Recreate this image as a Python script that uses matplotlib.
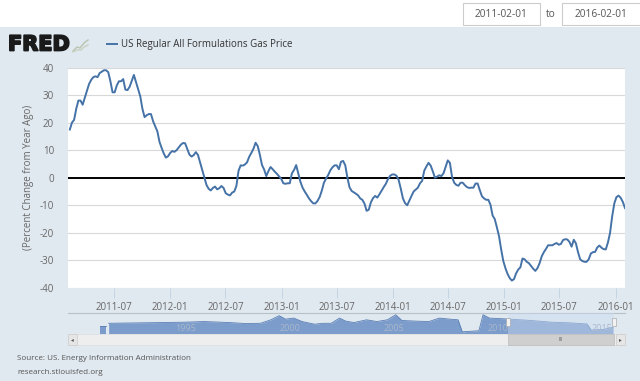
import matplotlib
matplotlib.use("Agg")
import matplotlib.pyplot as plt
import matplotlib.dates as mdates
import matplotlib.patches as mpatches
import matplotlib.patheffects as pe
import pandas as pd
import numpy as np

# ---------------- data ----------------
start_date = "2011-02-07"
pct_change = [
    17.5, 20, 21, 25, 28, 28, 26.5, 29, 31.5, 34, 35.5, 36.5, 36.8, 36.5, 38, 38.5, 39, 39, 38.3, 35,
    31, 31, 33.5, 35, 35, 35.8, 32, 31.8, 33, 35.2, 37.3, 34.7, 32, 29.5, 25, 22, 22.7, 23.1, 23.1, 20.5,
    18.7, 16.8, 13, 10.8, 8.8, 7.3, 7.8, 9, 9.7, 9.4, 10, 11, 12, 12.6, 12.5, 10.5, 8.4, 7.7, 8.2, 9.3,
    8.3, 5.6, 3, 0.2, -2.6, -4, -4.6, -3.7, -3.2, -4.2, -3.8, -3, -3.7, -5.6, -6.1, -6.4, -5.4, -5, -3, 2.5,
    4.5, 4.4, 4.8, 5.6, 7.6, 9, 10.5, 12.7, 11.5, 8.3, 4.6, 3, 0.6, 2.4, 3.9, 3.1, 2.2, 1.4, 0.5, -0.4,
    -2, -2.2, -2, -2, 1.6, 2.8, 4.6, 1.6, -1.5, -3.6, -5, -6.2, -7.5, -8.5, -9.3, -9.3, -8.4, -7, -4.7, -1.8,
    -0.3, 1, 2.7, 3.8, 4.5, 4.5, 3.1, 5.8, 6.1, 4.5, 0, -3.5, -4.8, -5.3, -5.8, -6.4, -7.5, -8, -9.4, -12,
    -11.6, -8.9, -7.4, -6.6, -7.2, -6, -4.7, -3.4, -2.2, -0.5, 0.7, 1.2, 1.2, 0.7, -0.8, -4, -7.5, -9.2, -10, -8.3,
    -6.6, -5, -4.3, -3.6, -2, -1.1, 2.6, 4.1, 5.4, 4.4, 2.3, 0, 0.4, 0.9, 0.6, 1.6, 4, 6.3, 5.4, 0.3,
    -1.8, -2.6, -2.9, -1.8, -1.8, -2.7, -3.4, -3.7, -3.6, -3.6, -2.1, -2.1, -4.5, -6.7, -7.5, -8, -8, -9.8, -13.7, -15,
    -18, -21.2, -26, -30.2, -32.8, -34.9, -36.4, -37.3, -36.8, -34.7, -33.3, -32.5, -29.3, -29.6, -30.5, -31, -32, -33, -33.8, -32.8,
    -31, -28.5, -27, -25.8, -24.5, -24.5, -24.5, -24, -23.7, -24.3, -24, -22.6, -22.3, -22.4, -23.3, -25, -22.5, -23.8, -27, -29.6,
    -30.2, -30.5, -30.5, -29.6, -27.5, -27, -26.9, -25.3, -24.6, -25.4, -25.9, -26, -23.5, -20, -14, -9.3, -7, -6.5, -7.3, -8.8,
    -11,
]
dates = pd.date_range(start_date, periods=len(pct_change), freq="7D")

x_ticks = ["2011-07-01", "2012-01-01", "2012-07-01", "2013-01-01", "2013-07-01",
           "2014-01-01", "2014-07-01", "2015-01-01", "2015-07-01", "2016-01-01"]
y_ticks = [-40, -30, -20, -10, 0, 10, 20, 30, 40]
date_from, date_to = "2011-02-01", "2016-02-01"

# navigator (full history overview), years and values
nav_years_a = [1991.4, 1991.65]
nav_vals_a = [-6, -6]
nav_years = [1991.8, 1994.4, 1995.4, 1996.4, 1996.8, 1997.6, 1998.4, 1999.1, 1999.6, 2000.0,
             2000.3, 2000.7, 2001.1, 2001.7, 2002.1, 2002.5, 2002.9, 2003.2, 2003.6, 2004.2,
             2004.7, 2005.2, 2005.6, 2005.9, 2006.6, 2007.2, 2007.7, 2008.2, 2008.6, 2008.8,
             2009.6, 2009.8, 2010.1, 2011.1, 2012.1, 2013.1, 2014.0, 2014.8, 2015.0, 2015.6, 2016.05]
nav_vals = [14, 19.5, 22, 27, 24.6, 19.5, 12, 14, 40, 71,
            45, 53, 27, 7, 14, 14, 53, 30, 19.5, 40,
            27, 40, 78, 35, 30, 27, 53, 45, 40, -50,
            -42, 78, 53, 45, 35, 22, 17, 9, -37, -32, -16]
nav_labels = [1995, 2000, 2005, 2010, 2015]

title = "US Regular All Formulations Gas Price"
ylabel = "(Percent Change from Year Ago)"
source = "Source: US. Energy Information Administration"
site = "research.stlouisfed.org"

# ---------------- style ----------------
BG = "#e1e9f0"
LINE = "#4572a7"
FONT = ["Open Sans", "DejaVu Sans"]
plt.rcParams["font.family"] = FONT

W, H = 640, 381
fig = plt.figure(figsize=(W / 100, H / 100), dpi=100)
fig.patch.set_facecolor(BG)

def fr(x0, y0, x1, y1):
    return [x0 / W, 1 - y1 / H, (x1 - x0) / W, (y1 - y0) / H]

# decoration layer in pixel coordinates
deco = fig.add_axes([0, 0, 1, 1], zorder=0)
deco.set_xlim(0, W)
deco.set_ylim(H, 0)
deco.axis("off")
deco.add_patch(mpatches.Rectangle((0, 0), W, 27, color="white", lw=0))
deco.add_patch(mpatches.Rectangle((463, 3), 77, 22, facecolor="white", edgecolor="#cccccc", lw=0.8))
deco.add_patch(mpatches.Rectangle((562, 3), 80, 22, facecolor="white", edgecolor="#cccccc", lw=0.8))
deco.text(501, 14.5, date_from, ha="center", va="center", fontsize=7.3, color="#555555")
deco.text(551, 14.5, "to", ha="center", va="center", fontsize=7.3, color="#555555")
deco.text(601, 14.5, date_to, ha="center", va="center", fontsize=7.3, color="#555555")

deco.text(8, 44.5, "FRED", ha="left", va="center", fontsize=15, fontweight="bold",
          color="#1a1a1a", family=["DejaVu Sans"],
          path_effects=[pe.withStroke(linewidth=1.3, foreground="#1a1a1a")])
# little logo chart glyph
deco.plot([73, 77, 80, 84, 88], [51, 47, 48, 43, 40], color="#b8c4b0", lw=1.0)
deco.plot([73, 77, 81, 84, 88], [52, 50, 50, 47, 45], color="#c8d0c0", lw=1.0)
deco.plot([107, 117], [44, 44], color=LINE, lw=1.4)
deco.text(121, 44, title, ha="left", va="center", fontsize=7, color="#333333")

deco.text(17, 358, source, ha="left", va="center", fontsize=5.8, color="#555555")
deco.text(17, 373, site, ha="left", va="center", fontsize=5.8, color="#555555")

# ---------------- main chart ----------------
ax = fig.add_axes(fr(68, 67.5, 625, 288), zorder=2)
ax.set_facecolor("white")
ax.plot(dates, pct_change, color=LINE, lw=1.4, zorder=3, solid_joinstyle="round")
ax.axhline(0, color="black", lw=1.4, zorder=2)
ax.set_xlim(pd.Timestamp(date_from), pd.Timestamp(date_to))
ax.set_ylim(-40, 40)
ax.set_yticks(y_ticks)
ax.set_yticklabels([str(v) for v in y_ticks])
ax.yaxis.grid(True, color="#d8d8d8", lw=0.8)
ax.set_axisbelow(True)
ax.set_xticks([pd.Timestamp(t) for t in x_ticks])
ax.xaxis.set_major_formatter(mdates.DateFormatter("%Y-%m"))
for s in ax.spines.values():
    s.set_visible(False)
ax.tick_params(axis="y", length=0, pad=10, labelsize=7, labelcolor="#666666")
ax.tick_params(axis="x", length=7, width=0.6, color="#c0d0e0", pad=3,
               labelsize=7, labelcolor="#666666")
ax.set_ylabel(ylabel, fontsize=7, color="#666666", labelpad=4)

# ---------------- navigator ----------------
yr0 = 2011 + (68 - 508) / 20.8
yr1 = 2011 + (625 - 508) / 20.8
nav = fig.add_axes(fr(68, 313, 625, 333.5), zorder=2)
nav.set_xlim(yr0, yr1)
nav.set_ylim(-62.6, 91)
nav.patch.set_alpha(0)
nav.fill_between(nav_years_a, nav_vals_a, -62.6, color="#7c9ccb", lw=0, zorder=1)
nav.fill_between(nav_years, nav_vals, -62.6, color="#7c9ccb", lw=0, zorder=1)
nav.plot(nav_years_a, nav_vals_a, color="#5a7fb5", lw=0.6, zorder=2)
nav.plot(nav_years, nav_vals, color="#5a7fb5", lw=0.6, zorder=2)
nav.axvspan(2011.0, 2016.1, color="#c8daf0", alpha=0.45, lw=0, zorder=3)
for yl in nav_labels:
    nav.text(yl, -25, str(yl), ha="left", va="center", fontsize=6.5, color="#a9b8cc",
             zorder=4)
nav.axis("off")
deco.plot([68, 625], [313, 313], color="#b8c0c8", lw=0.8, zorder=3)

# handles and scrollbar (pixel layer on top)
top = fig.add_axes([0, 0, 1, 1], zorder=3)
top.set_xlim(0, W)
top.set_ylim(H, 0)
top.axis("off")
for hx in (508, 614):
    top.add_patch(mpatches.Rectangle((hx - 2, 318), 4, 8, facecolor="#f2f2f2",
                                     edgecolor="#aaaaaa", lw=0.5))
top.add_patch(mpatches.Rectangle((68, 334), 557, 11, facecolor="#eeeeee", edgecolor="#dddddd", lw=0.5))
top.add_patch(mpatches.Rectangle((68, 334), 9, 11, facecolor="#e6e6e6", edgecolor="#cccccc", lw=0.5))
top.add_patch(mpatches.Rectangle((616, 334), 9, 11, facecolor="#e6e6e6", edgecolor="#cccccc", lw=0.5))
top.add_patch(mpatches.Rectangle((508, 334), 106, 11, facecolor="#cfcfcf", edgecolor="#bbbbbb", lw=0.5))
top.text(72.5, 339.5, "◂", ha="center", va="center", fontsize=4, color="#555555")
top.text(620.5, 339.5, "▸", ha="center", va="center", fontsize=4, color="#555555")
top.text(561, 339.5, "III", ha="center", va="center", fontsize=4, color="#666666")

fig.savefig("out.png", dpi=100, facecolor=fig.get_facecolor())
